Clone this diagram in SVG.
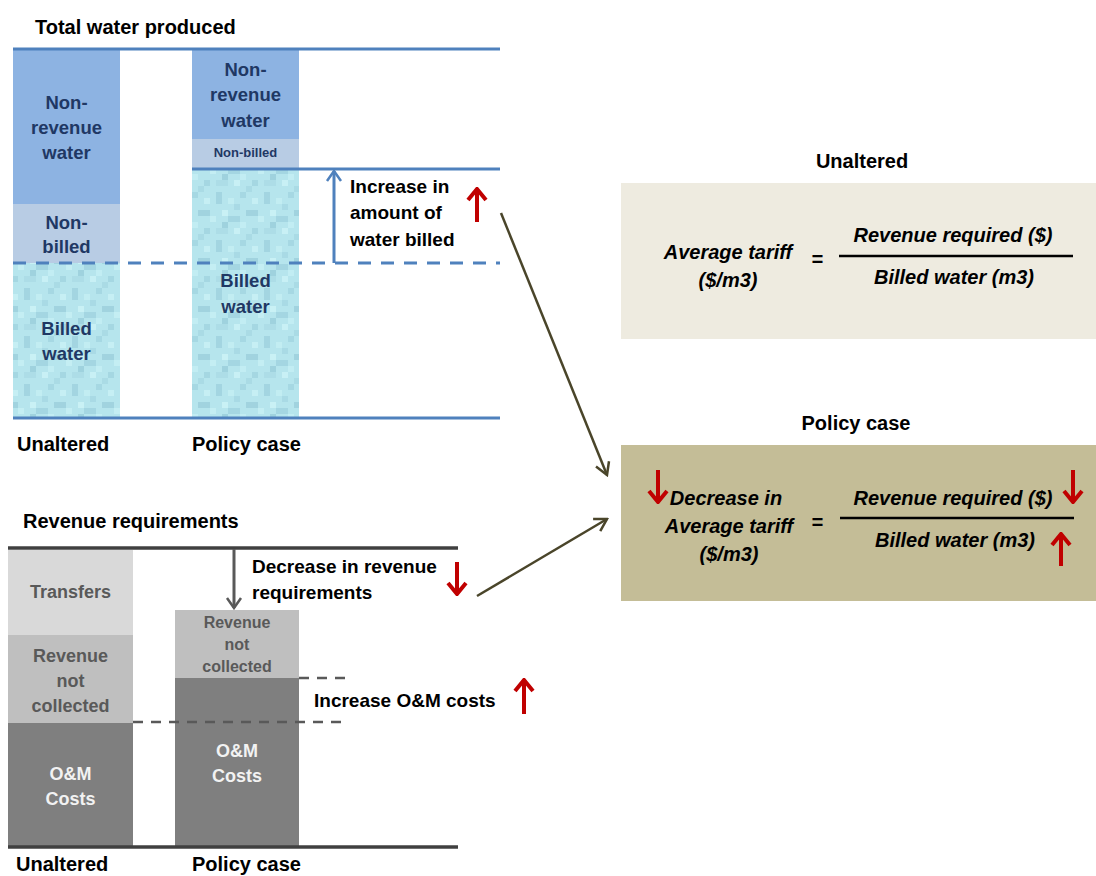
<svg xmlns="http://www.w3.org/2000/svg" width="1096" height="876" viewBox="0 0 1096 876">
<style>
text{font-family:"Liberation Sans",Arial,sans-serif;font-weight:bold}
.h{font-size:20px;fill:#000}
.lbl{font-size:18.5px;fill:#1F3864;text-anchor:middle}
.sm{font-size:13px;fill:#1F3864;text-anchor:middle}
.note{font-size:19px;fill:#000}
.g1{font-size:18px;fill:#595959;text-anchor:middle}
.g2{font-size:16px;fill:#595959;text-anchor:middle}
.w{font-size:18px;fill:#F2F2F2;text-anchor:middle}
.f{font-size:20px;font-style:italic;fill:#000;text-anchor:middle}
.c{text-anchor:middle}
.blue{stroke:#4F81BD;stroke-width:3;fill:none}
.dashb{stroke:#4F81BD;stroke-width:3;stroke-dasharray:13 10;fill:none}
.dashg{stroke:#595959;stroke-width:2.5;stroke-dasharray:10 8;fill:none}
.base{stroke:#404040;stroke-width:3.5;fill:none}
.red{stroke:#C00000;stroke-width:4;fill:none}
.olive{stroke:#4A452A;stroke-width:2.5;fill:none}
.frac{stroke:#000;stroke-width:2.5}
</style>
<defs>
<pattern id="wtr" patternUnits="userSpaceOnUse" width="48" height="48">
<rect width="48" height="48" fill="#B6E5ED"/>
<rect x="0" y="0" width="6" height="6" fill="#A6D8E3"/>
<rect x="12" y="6" width="6" height="6" fill="#C6EFF4"/>
<rect x="24" y="0" width="6" height="12" fill="#A3D5E1"/>
<rect x="36" y="6" width="6" height="6" fill="#C2EDF2"/>
<rect x="6" y="18" width="12" height="6" fill="#A1D3DF"/>
<rect x="30" y="18" width="6" height="6" fill="#C9F1F5"/>
<rect x="42" y="12" width="6" height="6" fill="#A9DAE5"/>
<rect x="18" y="24" width="6" height="6" fill="#C4EEF3"/>
<rect x="36" y="24" width="12" height="6" fill="#A4D6E2"/>
<rect x="0" y="30" width="6" height="6" fill="#C2EDF3"/>
<rect x="12" y="36" width="6" height="6" fill="#A5D7E2"/>
<rect x="24" y="36" width="12" height="6" fill="#ADDDE7"/>
<rect x="42" y="36" width="6" height="6" fill="#C8F0F5"/>
<rect x="6" y="42" width="6" height="6" fill="#AADBE5"/>
<rect x="30" y="30" width="6" height="6" fill="#9FD2DE"/>
</pattern>
<marker id="mRed" viewBox="-14 -12 16 24" markerWidth="16" markerHeight="24" refX="0" refY="0" orient="auto" markerUnits="userSpaceOnUse">
<path d="M-11,-9 L0,0 L-11,9" fill="none" stroke="#C00000" stroke-width="4"/>
</marker>
<marker id="mBlue" viewBox="-12 -10 14 20" markerWidth="14" markerHeight="20" refX="0" refY="0" orient="auto" markerUnits="userSpaceOnUse">
<path d="M-10,-7 L0,0 L-10,7" fill="none" stroke="#4F81BD" stroke-width="2.5"/>
</marker>
<marker id="mGrey" viewBox="-12 -10 14 20" markerWidth="14" markerHeight="20" refX="0" refY="0" orient="auto" markerUnits="userSpaceOnUse">
<path d="M-10,-7 L0,0 L-10,7" fill="none" stroke="#595959" stroke-width="2.5"/>
</marker>
<marker id="mOlive" viewBox="-14 -10 16 20" markerWidth="16" markerHeight="20" refX="0" refY="0" orient="auto" markerUnits="userSpaceOnUse">
<path d="M-12,-7 L0,0 L-12,7" fill="none" stroke="#4A452A" stroke-width="2.5"/>
</marker>
</defs>

<rect width="1096" height="876" fill="#FFFFFF"/>

<!-- Water section -->
<g id="water-title"><text class="h" x="35" y="34">Total water produced</text></g>

<g id="water-unaltered">
<rect x="13" y="50" width="107" height="154" fill="#8DB3E2"/>
<rect x="13" y="204" width="107" height="59" fill="#B8CCE4"/>
<rect x="13" y="263" width="107" height="154" fill="url(#wtr)"/>
<text class="lbl" x="66.5" y="109">Non-</text>
<text class="lbl" x="66.5" y="134">revenue</text>
<text class="lbl" x="66.5" y="159">water</text>
<text class="lbl" x="66.5" y="229">Non-</text>
<text class="lbl" x="66.5" y="253">billed</text>
<text class="lbl" x="66.5" y="335">Billed</text>
<text class="lbl" x="66.5" y="360">water</text>
<text class="h" x="17" y="451">Unaltered</text>
</g>

<g id="water-policy">
<rect x="192" y="50" width="107" height="89" fill="#8DB3E2"/>
<rect x="192" y="139" width="107" height="30" fill="#B8CCE4"/>
<rect x="192" y="169" width="107" height="248" fill="url(#wtr)"/>
<text class="lbl" x="245.5" y="76">Non-</text>
<text class="lbl" x="245.5" y="101">revenue</text>
<text class="lbl" x="245.5" y="127">water</text>
<text class="sm" x="245.5" y="157">Non-billed</text>
<text class="lbl" x="245.5" y="287">Billed</text>
<text class="lbl" x="245.5" y="313">water</text>
<text class="h" x="192" y="451">Policy case</text>
</g>

<g id="water-lines">
<line class="blue" x1="13" y1="49" x2="500" y2="49"/>
<line class="blue" x1="13" y1="418" x2="500" y2="418"/>
<line class="blue" x1="192" y1="169" x2="500" y2="169"/>
<line class="dashb" x1="13" y1="263" x2="500" y2="263"/>
</g>

<g id="water-increase">
<text class="note" x="350" y="193">Increase in</text>
<text class="note" x="350" y="219">amount of</text>
<text class="note" x="350" y="246">water billed</text>
</g>

<!-- Revenue section -->
<g id="rev-title"><text class="h" x="23" y="528">Revenue requirements</text></g>

<g id="rev-unaltered">
<rect x="8" y="550" width="125" height="85" fill="#D9D9D9"/>
<rect x="8" y="635" width="125" height="88" fill="#BFBFBF"/>
<rect x="8" y="723" width="125" height="123" fill="#7F7F7F"/>
<text class="g1" x="70.5" y="598">Transfers</text>
<text class="g1" x="70.5" y="662">Revenue</text>
<text class="g1" x="70.5" y="687">not</text>
<text class="g1" x="70.5" y="712">collected</text>
<text class="w" x="70.5" y="780">O&amp;M</text>
<text class="w" x="70.5" y="805">Costs</text>
<text class="h" x="16" y="871">Unaltered</text>
</g>

<g id="rev-policy">
<rect x="175" y="610" width="124" height="68" fill="#BFBFBF"/>
<rect x="175" y="678" width="124" height="168" fill="#7F7F7F"/>
<text class="g2" x="237" y="628">Revenue</text>
<text class="g2" x="237" y="650">not</text>
<text class="g2" x="237" y="672">collected</text>
<text class="w" x="237" y="757">O&amp;M</text>
<text class="w" x="237" y="782">Costs</text>
<text class="h" x="192" y="871">Policy case</text>
</g>

<g id="rev-lines">
<line class="base" x1="8" y1="548" x2="458" y2="548"/>
<line class="base" x1="8" y1="847" x2="458" y2="847"/>
<line class="dashg" x1="133" y1="722" x2="345" y2="722"/>
<line class="dashg" x1="299" y1="678" x2="345" y2="678"/>
</g>

<g id="rev-decrease">
<text class="note" x="252" y="573">Decrease in revenue</text>
<text class="note" x="252" y="599">requirements</text>
</g>
<g id="rev-increase">
<text class="note" x="314" y="707">Increase O&amp;M costs</text>
</g>

<!-- Formula boxes -->
<g id="formula-unaltered">
<text class="h c" x="862" y="168">Unaltered</text>
<rect x="621" y="183" width="475" height="156" fill="#EEEBE0"/>
<text class="f" x="728" y="259">Average tariff</text>
<text class="f" x="728" y="287">($/m3)</text>
<text class="f" x="817" y="266">=</text>
<line class="frac" x1="839" y1="256" x2="1073" y2="256"/>
<text class="f" x="953" y="242">Revenue required ($)</text>
<text class="f" x="954" y="284">Billed water (m3)</text>
</g>

<g id="formula-policy">
<text class="h c" x="856" y="430">Policy case</text>
<rect x="621" y="445" width="475" height="156" fill="#C4BD97"/>
<text class="f" x="726" y="505">Decrease in</text>
<text class="f" x="729" y="533">Average tariff</text>
<text class="f" x="729" y="561">($/m3)</text>
<text class="f" x="817" y="529">=</text>
<line class="frac" x1="840" y1="518" x2="1074" y2="518"/>
<text class="f" x="953" y="505">Revenue required ($)</text>
<text class="f" x="955" y="547">Billed water (m3)</text>
</g>

<!-- Connectors and arrows -->
<g id="connectors">
<line class="blue" x1="334" y1="263" x2="334" y2="171" marker-end="url(#mBlue)"/>
<line x1="234" y1="549" x2="234" y2="608" stroke="#595959" stroke-width="3" marker-end="url(#mGrey)"/>
<line class="red" x1="477" y1="222" x2="477" y2="189" marker-end="url(#mRed)"/>
<line class="red" x1="457" y1="562" x2="457" y2="594" marker-end="url(#mRed)"/>
<line class="red" x1="524" y1="714" x2="524" y2="680" marker-end="url(#mRed)"/>
<line class="red" x1="658" y1="470" x2="658" y2="502" marker-end="url(#mRed)"/>
<line class="red" x1="1073" y1="470" x2="1073" y2="502" marker-end="url(#mRed)"/>
<line class="red" x1="1061" y1="566" x2="1061" y2="534" marker-end="url(#mRed)"/>
<line class="olive" x1="501" y1="213" x2="607" y2="475" marker-end="url(#mOlive)"/>
<line class="olive" x1="477" y1="596" x2="607" y2="519" marker-end="url(#mOlive)"/>
</g>
</svg>
